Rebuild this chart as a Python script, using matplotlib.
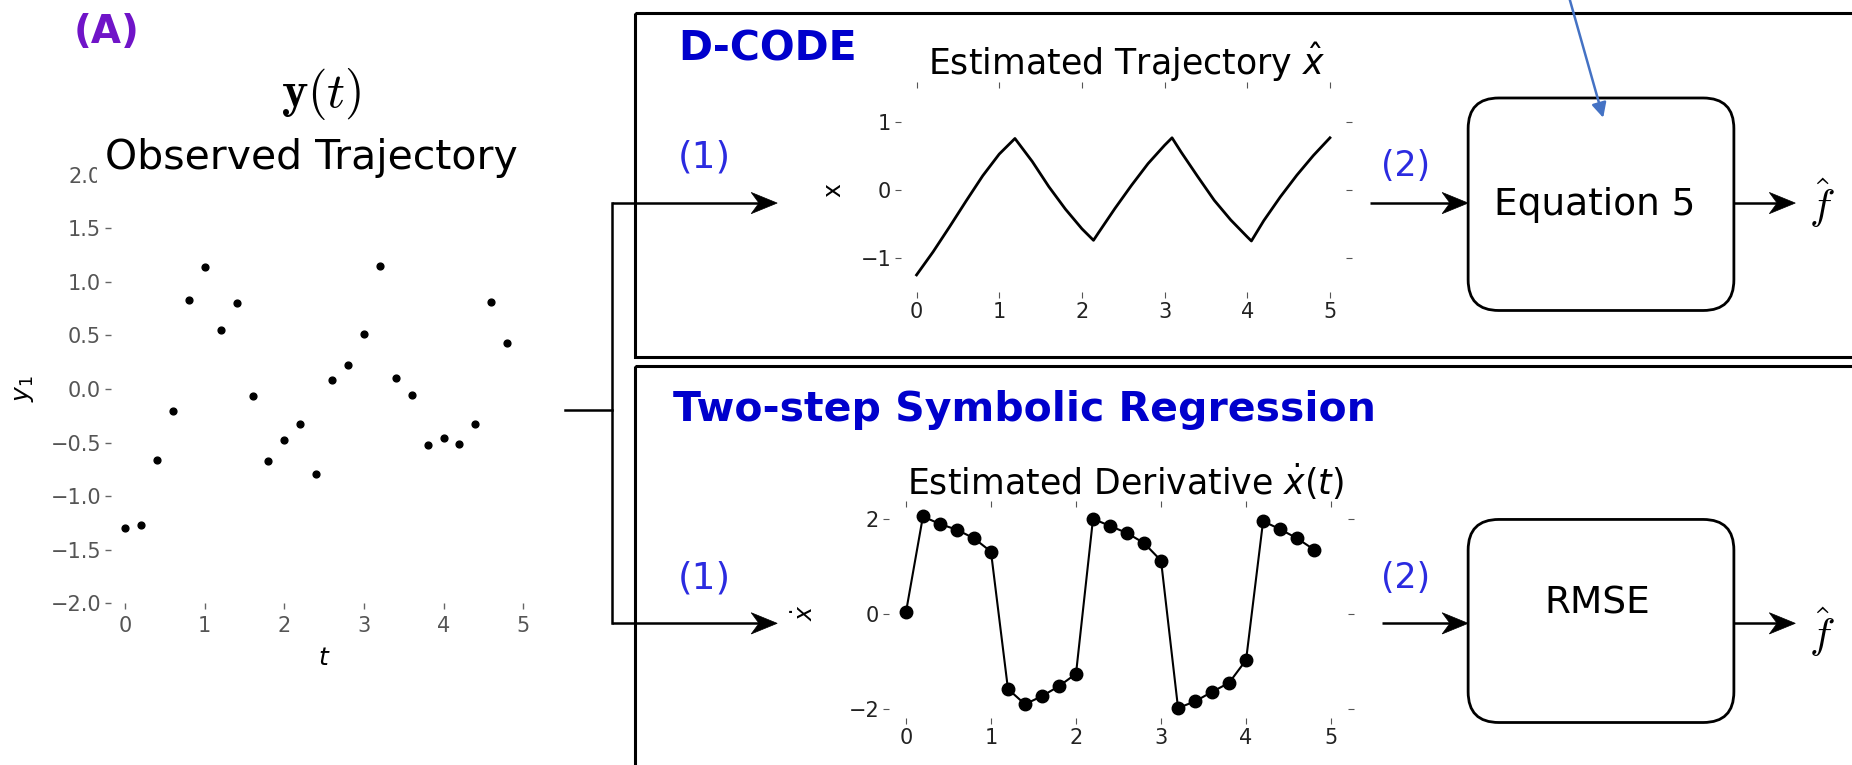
import matplotlib.pyplot as plt
from matplotlib.patches import Rectangle, FancyBboxPatch, Polygon

# (A) observed trajectory y1(t)
t_obs = [0.0, 0.2, 0.4, 0.6, 0.8, 1.0, 1.2, 1.4, 1.6, 1.8, 2.0, 2.2, 2.4,
         2.6, 2.8, 3.0, 3.2, 3.4, 3.6, 3.8, 4.0, 4.2, 4.4, 4.6, 4.8]
y_obs = [-1.30, -1.27, -0.66, -0.21, 0.83, 1.14, 0.55, 0.80, -0.07, -0.67, -0.48, -0.33, -0.79,
         0.08, 0.22, 0.51, 1.15, 0.10, -0.06, -0.52, -0.46, -0.51, -0.33, 0.81, 0.43]

# D-CODE: estimated trajectory x_hat
t_hat = [0.0, 0.2, 0.4, 0.6, 0.8, 1.0, 1.19, 1.4, 1.6, 1.8, 2.0, 2.14, 2.2, 2.4, 2.6,
         2.8, 3.0, 3.09, 3.2, 3.4, 3.6, 3.8, 4.0, 4.05, 4.2, 4.4, 4.6, 4.8, 5.0]
x_hat = [-1.25, -0.91, -0.54, -0.16, 0.21, 0.53, 0.76, 0.42, 0.05, -0.28, -0.57, -0.74, -0.63, -0.27, 0.07,
         0.39, 0.66, 0.77, 0.56, 0.20, -0.15, -0.44, -0.69, -0.75, -0.45, -0.10, 0.22, 0.51, 0.77]

# two-step symbolic regression: estimated derivative
t_dot = t_obs
x_dot = [0.03, 2.05, 1.89, 1.77, 1.59, 1.31, -1.58, -1.90, -1.73, -1.52, -1.26, 2.00, 1.85,
         1.70, 1.49, 1.12, -1.98, -1.84, -1.64, -1.45, -0.97, 1.95, 1.78, 1.59, 1.35]

W, H = 1568, 648
BLUE = '#0000cc'
NUM_BLUE = '#2b2be0'

fig = plt.figure(figsize=(18.52, 7.65), dpi=100)


def place(x0, y0, x1, y1):
    return [x0 / W, 1 - y1 / H, (x1 - x0) / W, (y1 - y0) / H]


def no_spines(ax):
    for s in ax.spines.values():
        s.set_visible(False)


# left panel
ax = fig.add_axes(place(93.9, 148, 455, 511))
ax.scatter(t_obs, y_obs, s=24, color='black', zorder=3)
ax.set_xlim(-0.18, 5.18)
ax.set_ylim(-2.0, 2.0)
ax.set_xticks([0, 1, 2, 3, 4, 5])
ax.set_yticks([-2.0, -1.5, -1.0, -0.5, 0.0, 0.5, 1.0, 1.5, 2.0])
ax.set_yticklabels(['\u22122.0', '\u22121.5', '\u22121.0', '\u22120.5', '0.0', '0.5', '1.0', '1.5', '2.0'])
no_spines(ax)
ax.tick_params(direction='out', length=4, width=1, color='#666666', labelcolor='#555555',
               labelsize=15, pad=3)
ax.tick_params(axis='x', pad=5)
ax.set_xlabel('$t$', fontsize=18)
ax.set_ylabel('$y_1$', fontsize=18)
ax.xaxis.set_label_coords(0.50, -0.10)
ax.yaxis.set_label_coords(-0.175, 0.5)


def inner(ax):
    no_spines(ax)
    ax.tick_params(direction='out', length=4, width=0.8, color='#555555', labelcolor='#222222',
                   labelsize=15, pad=3, top=True, right=True)
    ax.set_xticks([0, 1, 2, 3, 4, 5])


# D-CODE estimated trajectory
ax1 = fig.add_axes(place(762.7, 74.75, 1139.3, 247.25))
ax1.plot(t_hat, x_hat, color='black', lw=2.0)
ax1.set_xlim(-0.19, 5.19)
ax1.set_ylim(-1.5, 1.5)
ax1.set_yticks([-1, 0, 1])
ax1.set_yticklabels(['\u22121', '0', '1'])
inner(ax1)
ax1.set_ylabel('x', fontsize=17)
ax1.yaxis.set_label_coords(-0.125, 0.5)

# two-step estimated derivative
ax2 = fig.add_axes(place(752.6, 429.4, 1141.4, 608.6))
ax2.plot(t_dot, x_dot, color='black', lw=1.5, marker='o', ms=9)
ax2.set_xlim(-0.2, 5.2)
ax2.set_ylim(-2.2, 2.25)
ax2.set_yticks([-2, 0, 2])
ax2.set_yticklabels(['\u22122', '0', '2'])
inner(ax2)
ax2.set_ylabel(r'$\dot{x}$', fontsize=17)
ax2.yaxis.set_label_coords(-0.155, 0.5)

# overlay for the diagram parts
ov = fig.add_axes([0, 0, 1, 1])
ov.set_xlim(0, W)
ov.set_ylim(H, 0)
ov.axis('off')
ov.patch.set_alpha(0)


def arrow(x0, x1, y, hl=22, hw=9):
    ov.plot([x0, x1 - hl * 0.5], [y, y], color='black', lw=1.8, solid_capstyle='butt')
    ov.add_patch(Polygon([[x1, y], [x1 - hl, y - hw], [x1 - hl * 0.7, y], [x1 - hl, y + hw]],
                         closed=True, fc='black', ec='black', lw=0.5))


ov.text(90, 27, '(A)', ha='center', va='center', fontsize=28, fontweight='bold', color='#7014c8')
ov.text(272, 80, r'$\mathbf{y}(t)$', ha='center', va='center', fontsize=36, math_fontfamily='cm')
ov.text(264, 134, 'Observed Trajectory', ha='center', va='center', fontsize=29.5,
        bbox=dict(fc='white', ec='none', pad=6))

# connector from the data to both methods
ov.plot([478, 518], [347, 347], color='black', lw=1.8)
ov.plot([518, 518], [172, 528], color='black', lw=1.8)
arrow(518, 658, 172)
arrow(518, 658, 528)

# method frames
ov.add_patch(Rectangle((538, 11), 1100, 291, fill=False, ec='black', lw=2.2))
ov.add_patch(Rectangle((538, 310), 1100, 400, fill=False, ec='black', lw=2.2))
ov.text(574, 42, 'D-CODE', ha='left', va='center', fontsize=29.5, fontweight='bold', color=BLUE)
ov.text(570, 347, 'Two-step Symbolic Regression', ha='left', va='center', fontsize=29.5,
        fontweight='bold', color=BLUE)

ov.text(954, 53, r'Estimated Trajectory $\hat{x}$', ha='center', va='center', fontsize=25)
ov.text(953, 408, r'Estimated Derivative $\dot{x}(t)$', ha='center', va='center', fontsize=25)

for y in (133, 490):
    ov.text(596, y, '(1)', ha='center', va='center', fontsize=27, color=NUM_BLUE)
for y in (141, 490):
    ov.text(1190, y, '(2)', ha='center', va='center', fontsize=25, color=NUM_BLUE)

arrow(1160, 1243, 172)
arrow(1170, 1243, 528)
arrow(1468, 1520, 172)
arrow(1468, 1520, 528)

ov.add_patch(FancyBboxPatch((1243, 83), 225, 180, boxstyle='round,pad=0,rounding_size=26',
                            fill=False, ec='black', lw=2))
ov.add_patch(FancyBboxPatch((1243, 440), 225, 172, boxstyle='round,pad=0,rounding_size=26',
                            fill=False, ec='black', lw=2))
ov.text(1350, 174, 'Equation 5', ha='center', va='center', fontsize=27)
ov.text(1352, 511, 'RMSE', ha='center', va='center', fontsize=27)
ov.text(1532, 172, r'$\hat{f}$', ha='left', va='center', fontsize=31, math_fontfamily='cm')
ov.text(1532, 535, r'$\hat{f}$', ha='left', va='center', fontsize=31, math_fontfamily='cm')

ov.annotate('', xy=(1358, 102), xytext=(1328, -4),
            arrowprops=dict(arrowstyle='-|>', color='#4472c4', lw=1.8, mutation_scale=22))

fig.savefig('out.png', dpi=100)
